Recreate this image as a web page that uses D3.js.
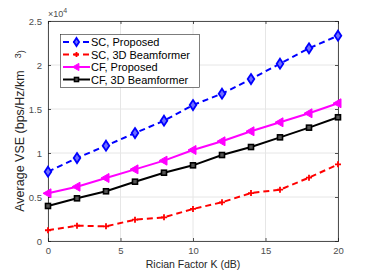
<!DOCTYPE html>
<html>
<head>
<meta charset="utf-8">
<script src="https://cdn.jsdelivr.net/npm/d3@7"></script>
<style>
  body { margin: 0; background: #fff; }
  text { font-family: "Liberation Sans", Arial, sans-serif; }
</style>
</head>
<body>
<div id="viz"></div>
<script>
// Data (VSE values in bps/Hz/km^3)
const kValues = [0, 2, 4, 6, 8, 10, 12, 14, 16, 18, 20];
const scProposed = [7880, 9430, 10830, 12270, 13670, 15450, 16740, 18400, 20150, 21900, 23330];
const sc3D = [1220, 1740, 1670, 2420, 2690, 3640, 4400, 5450, 5830, 7200, 8710];
const cfProposed = [5420, 6170, 7160, 8140, 9130, 10340, 11330, 12470, 13490, 14510, 15650];
const cf3D = [3980, 4850, 5650, 6740, 7760, 8600, 9770, 10680, 11780, 12880, 14060];

const xTicks = [0, 5, 10, 15, 20];
const yTicks = [0, 5000, 10000, 15000, 20000, 25000];
const yTickLabels = ["0", "0.5", "1", "1.5", "2", "2.5"];

const seriesNames = ["SC, Proposed", "SC, 3D Beamformer", "CF, Proposed", "CF, 3D Beamformer"];
const seriesValues = [scProposed, sc3D, cfProposed, cf3D];
const seriesColors = ["#0000ff", "#ff0000", "#ff00ff", "#000000"];
const seriesDash = ["6,4", "6,4", null, null];
const seriesMarker = ["diamond", "plus", "triangle", "square"];

const dims = {
    width: 374,
    height: 271,
    margin: { top: 21, right: 36, bottom: 30, left: 48 }
};

const svg = d3.select("#viz")
    .append("svg")
    .attr("width", dims.width)
    .attr("height", dims.height)
    .style("display", "block");

const x = d3.scaleLinear()
    .domain([0, 20])
    .range([dims.margin.left, dims.width - dims.margin.right]);

const y = d3.scaleLinear()
    .domain([0, 25000])
    .range([dims.height - dims.margin.bottom, dims.margin.top]);

const axisColor = "#262626";

// grid
svg.append("g")
    .selectAll("line.vgrid")
    .data(xTicks)
    .join("line")
    .attr("x1", d => x(d)).attr("x2", d => x(d))
    .attr("y1", y(0)).attr("y2", y(25000))
    .attr("stroke", "#e6e6e6").attr("stroke-width", 1);

svg.append("g")
    .selectAll("line.hgrid")
    .data(yTicks)
    .join("line")
    .attr("y1", d => y(d)).attr("y2", d => y(d))
    .attr("x1", x(0)).attr("x2", x(20))
    .attr("stroke", "#e6e6e6").attr("stroke-width", 1);

// axes
const xAxis = svg.append("g")
    .attr("transform", `translate(0,${y(0)})`)
    .call(d3.axisBottom(x).tickValues(xTicks).tickSize(-3).tickPadding(6));
const yAxis = svg.append("g")
    .attr("transform", `translate(${x(0)},0)`)
    .call(d3.axisLeft(y).tickValues(yTicks).tickSize(-3).tickPadding(6)
        .tickFormat((d, i) => yTickLabels[i]));
// top and right box edges
const xAxisTop = svg.append("g")
    .attr("transform", `translate(0,${y(25000)})`)
    .call(d3.axisTop(x).tickValues(xTicks).tickSize(-3).tickFormat(""));
const yAxisRight = svg.append("g")
    .attr("transform", `translate(${x(20)},0)`)
    .call(d3.axisRight(y).tickValues(yTicks).tickSize(-3).tickFormat(""));

[xAxis, yAxis, xAxisTop, yAxisRight].forEach(g => {
    g.select(".domain").attr("stroke", axisColor).attr("stroke-width", 0.8);
    g.selectAll(".tick line").attr("stroke", axisColor).attr("stroke-width", 0.8);
    g.selectAll(".tick text")
        .attr("fill", "#4d4d4d")
        .attr("font-size", "9.5px")
        .attr("font-family", "Liberation Sans, Arial, sans-serif");
});

// exponent label
const expo = svg.append("text")
    .attr("x", x(0))
    .attr("y", y(25000) - 4)
    .attr("font-size", "9px")
    .attr("fill", "#4d4d4d");
expo.append("tspan").text("×10");
expo.append("tspan").attr("dy", -4).attr("font-size", "7px").text("4");

// axis titles
svg.append("text")
    .attr("x", (x(0) + x(20)) / 2)
    .attr("y", 267.5)
    .attr("text-anchor", "middle")
    .attr("font-size", "10.5px")
    .attr("fill", axisColor)
    .text("Rician Factor K (dB)");

const yTitle = svg.append("text")
    .attr("transform", `translate(24,${(y(0) + y(25000)) / 2}) rotate(-90)`)
    .attr("text-anchor", "middle")
    .attr("font-size", "12.5px")
    .attr("fill", axisColor);
yTitle.append("tspan").text("Average VSE (bps/Hz/km");
yTitle.append("tspan").attr("dx", 12).attr("dy", -3).attr("font-size", "9px").text("3");
yTitle.append("tspan").attr("dy", 3).attr("font-size", "9px").text(")");

// marker drawing
function drawMarker(g, type, color, scale = 1) {
    if (type === "diamond") {
        g.append("path")
            .attr("d", `M0,${-5 * scale} L${3.3 * scale},0 L0,${5 * scale} L${-3.3 * scale},0 Z`)
            .attr("fill", "#6f6fff").attr("stroke", color).attr("stroke-width", 1.8);
    } else if (type === "plus") {
        g.append("path")
            .attr("d", `M${-3 * scale},0 H${3 * scale} M0,${-3 * scale} V${3 * scale}`)
            .attr("stroke", color).attr("stroke-width", 1.8);
    } else if (type === "triangle") {
        g.append("path")
            .attr("d", `M${-5 * scale},0 L${3 * scale},${-4.5 * scale} L${3 * scale},${4.5 * scale} Z`)
            .attr("fill", color).attr("stroke", color).attr("stroke-width", 1);
    } else if (type === "square") {
        g.append("rect")
            .attr("x", -2.5 * scale).attr("y", -2.5 * scale)
            .attr("width", 5 * scale).attr("height", 5 * scale)
            .attr("fill", "#555").attr("stroke", color).attr("stroke-width", 1.6);
    }
}

const line = d3.line()
    .x((d, i) => x(kValues[i]))
    .y(d => y(d));

seriesValues.forEach((vals, s) => {
    svg.append("path")
        .datum(vals)
        .attr("d", line)
        .attr("fill", "none")
        .attr("stroke", seriesColors[s])
        .attr("stroke-width", 2)
        .attr("stroke-dasharray", seriesDash[s]);
    vals.forEach((v, i) => {
        const g = svg.append("g").attr("transform", `translate(${x(kValues[i])},${y(v)})`);
        drawMarker(g, seriesMarker[s], seriesColors[s]);
    });
});

// legend
const legend = svg.append("g");
legend.append("rect")
    .attr("x", 60.5).attr("y", 34.5)
    .attr("width", 139).attr("height", 53)
    .attr("fill", "#fff")
    .attr("stroke", "#262626")
    .attr("stroke-width", 0.6);

const legendY = [42, 54.5, 67, 79.5];
seriesNames.forEach((name, s) => {
    legend.append("line")
        .attr("x1", 63).attr("x2", 90)
        .attr("y1", legendY[s]).attr("y2", legendY[s])
        .attr("stroke", seriesColors[s])
        .attr("stroke-width", 2)
        .attr("stroke-dasharray", seriesDash[s]);
    const g = legend.append("g").attr("transform", `translate(76.5,${legendY[s]})`);
    drawMarker(g, seriesMarker[s], seriesColors[s], 0.8);
    legend.append("text")
        .attr("x", 91)
        .attr("y", legendY[s] + 4)
        .attr("font-size", "11px")
        .attr("fill", "#000")
        .text(name);
});
</script>
</body>
</html>
